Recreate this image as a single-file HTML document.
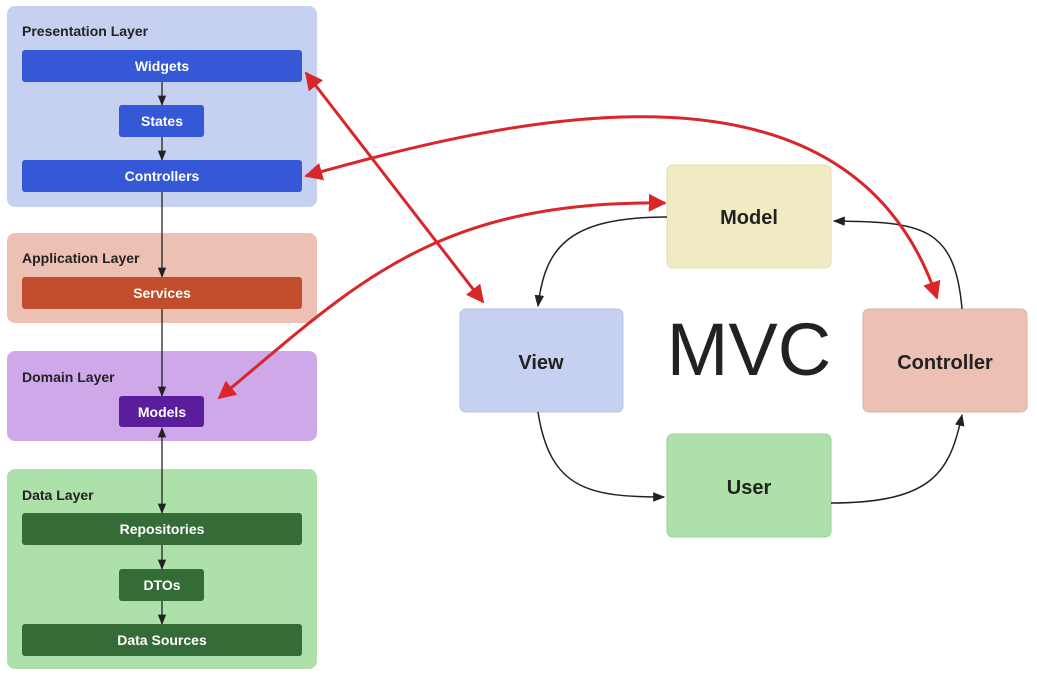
<!DOCTYPE html>
<html><head><style>
body{margin:0;background:#fff;}
text{font-family:"Liberation Sans",sans-serif;}
</style></head><body>
<svg width="1037" height="679" viewBox="0 0 1037 679" xmlns="http://www.w3.org/2000/svg">
<defs>
<marker id="bk" viewBox="0 0 10 10" refX="9" refY="5" markerWidth="8" markerHeight="8" orient="auto-start-reverse"><path d="M0,1 L10,5 L0,9 z" fill="#222"/></marker>
<marker id="rd" viewBox="0 0 10 10" refX="9" refY="5" markerWidth="6" markerHeight="6" orient="auto-start-reverse"><path d="M0,0 L10,5 L0,10 z" fill="#d9262b"/></marker>
</defs>
<rect x="7" y="6" width="310" height="201" rx="8" fill="#c6d0f0"/>
<rect x="7" y="233" width="310" height="90" rx="8" fill="#ecc1b3"/>
<rect x="7" y="351" width="310" height="90" rx="8" fill="#cfa8ea"/>
<rect x="7" y="469" width="310" height="200" rx="8" fill="#aee0aa"/>
<g font-weight="bold" font-size="14" fill="#222">
<text x="22" y="36">Presentation Layer</text>
<text x="22" y="263">Application Layer</text>
<text x="22" y="382">Domain Layer</text>
<text x="22" y="500">Data Layer</text>
</g>
<g stroke="#222" stroke-width="1.3" fill="none">
<line x1="162" y1="82" x2="162" y2="105" marker-end="url(#bk)"/>
<line x1="162" y1="137" x2="162" y2="160" marker-end="url(#bk)"/>
<line x1="162" y1="192" x2="162" y2="277" marker-end="url(#bk)"/>
<line x1="162" y1="309" x2="162" y2="396" marker-end="url(#bk)"/>
<line x1="162" y1="428" x2="162" y2="513" marker-start="url(#bk)" marker-end="url(#bk)"/>
<line x1="162" y1="545" x2="162" y2="569" marker-end="url(#bk)"/>
<line x1="162" y1="601" x2="162" y2="624" marker-end="url(#bk)"/>
</g>
<rect x="22" y="50" width="280" height="32" rx="3" fill="#3558d6"/>
<rect x="119" y="105" width="85" height="32" rx="3" fill="#3558d6"/>
<rect x="22" y="160" width="280" height="32" rx="3" fill="#3558d6"/>
<rect x="22" y="277" width="280" height="32" rx="3" fill="#c04d2b"/>
<rect x="119" y="396" width="85" height="31" rx="3" fill="#5a1e9c"/>
<rect x="22" y="513" width="280" height="32" rx="3" fill="#356b36"/>
<rect x="119" y="569" width="85" height="32" rx="3" fill="#356b36"/>
<rect x="22" y="624" width="280" height="32" rx="3" fill="#356b36"/>
<g font-weight="bold" font-size="14" fill="#fff" text-anchor="middle">
<text x="162" y="71">Widgets</text>
<text x="162" y="126">States</text>
<text x="162" y="181">Controllers</text>
<text x="162" y="298">Services</text>
<text x="162" y="417">Models</text>
<text x="162" y="534">Repositories</text>
<text x="162" y="590">DTOs</text>
<text x="162" y="645">Data Sources</text>
</g>
<rect x="667" y="165" width="164" height="103" rx="6" fill="#f0ebc3" stroke="#e2dcae"/>
<rect x="460" y="309" width="163" height="103" rx="6" fill="#c6d0f0" stroke="#b5c0e2"/>
<rect x="863" y="309" width="164" height="103" rx="6" fill="#ecc1b3" stroke="#dcb0a2"/>
<rect x="667" y="434" width="164" height="103" rx="6" fill="#aee0aa" stroke="#9ed09a"/>
<g font-weight="bold" font-size="20" fill="#222" text-anchor="middle">
<text x="749" y="224">Model</text>
<text x="541" y="369">View</text>
<text x="945" y="369">Controller</text>
<text x="749" y="494">User</text>
</g>
<text x="749" y="375" font-size="74" fill="#222" text-anchor="middle">MVC</text>
<g stroke="#222" stroke-width="1.5" fill="none">
<path d="M667,217 C565,217 545,250 538,306" marker-end="url(#bk)"/>
<path d="M962,309 C955,225 920,222 834,221" marker-end="url(#bk)"/>
<path d="M538,412 C550,490 590,497 664,497" marker-end="url(#bk)"/>
<path d="M831,503 C935,503 950,470 962,415" marker-end="url(#bk)"/>
</g>
<g stroke="#d9262b" stroke-width="3" fill="none">
<line x1="306" y1="73" x2="483" y2="302" marker-start="url(#rd)" marker-end="url(#rd)"/>
<path d="M306,176 C520,115 850,40 937,298" marker-start="url(#rd)" marker-end="url(#rd)"/>
<path d="M219,398 C350,290 430,200 665,203" marker-start="url(#rd)" marker-end="url(#rd)"/>
</g>
</svg>
</body></html>
